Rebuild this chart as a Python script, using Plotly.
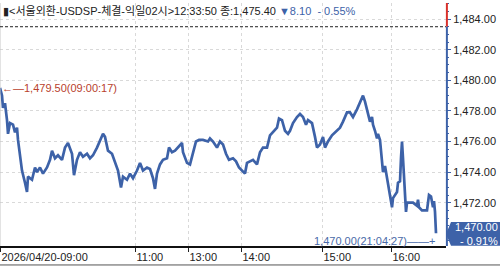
import plotly.graph_objects as go

# ---- data ----
seq = [0, 2, 3, 5, 7, 8, 10, 13, 15, 17, 18, 20, 22, 25, 27, 28, 32, 35, 37, 40,
       43, 47, 50, 52, 55, 58, 62, 65, 68, 72, 74, 77, 80, 83, 87, 90, 93, 97, 100, 103,
       105, 108, 112, 115, 118, 121, 123, 127, 130, 133, 137, 140, 143, 147, 150, 153, 155, 157, 160, 163,
       167, 169, 172, 175, 178, 182, 183, 187, 190, 193, 196, 199, 203, 208, 210, 213, 217, 220, 223, 226,
       229, 233, 236, 239, 243, 245, 247, 250, 253, 257, 260, 263, 267, 270, 273, 277, 279, 282, 285, 288,
       290, 293, 297, 300, 303, 306, 308, 312, 315, 317, 320, 323, 325, 328, 332, 337, 340, 343, 347, 350,
       353, 357, 360, 363, 365, 368, 370, 372, 373, 375, 377, 378, 380, 382, 383, 385, 388, 390, 392, 393,
       395, 397, 398, 400, 401, 402, 403, 404, 405, 406, 407, 413, 417, 418, 419, 422, 427, 429, 431, 433,
       434, 435, 436]
price = [1479.5, 1479.0, 1478.2, 1478.5, 1477.4, 1476.5, 1477.2, 1477.1, 1476.6, 1476.9, 1476.1, 1475.0, 1474.1, 1473.3, 1472.7, 1473.7, 1473.5, 1474.3, 1474.0, 1474.3,
         1473.9, 1474.3, 1474.8, 1475.4, 1474.9, 1475.1, 1474.8, 1475.6, 1475.9, 1475.2, 1473.8, 1474.8, 1475.3, 1475.0, 1475.2, 1474.9, 1475.1, 1475.6, 1476.1, 1476.5,
         1476.3, 1475.4, 1475.2, 1474.6, 1474.1, 1473.0, 1473.7, 1473.5, 1473.9, 1473.6, 1474.1, 1474.6, 1474.1, 1474.3, 1474.2, 1473.6, 1472.9, 1473.9, 1474.5, 1474.8,
         1474.9, 1475.6, 1475.3, 1475.4, 1475.6, 1475.9, 1475.3, 1474.6, 1474.5, 1475.3, 1476.0, 1476.1, 1476.1, 1476.0, 1476.2, 1476.0, 1475.6, 1476.0, 1475.8, 1475.2,
         1474.8, 1474.9, 1474.7, 1474.3, 1474.0, 1473.9, 1474.6, 1474.7, 1474.8, 1474.5, 1475.3, 1475.6, 1475.6, 1476.4, 1476.6, 1476.9, 1477.5, 1477.4, 1476.7, 1476.5,
         1476.7, 1477.2, 1477.6, 1477.8, 1477.6, 1477.1, 1477.4, 1477.2, 1476.3, 1475.6, 1475.8, 1476.3, 1475.6, 1476.0, 1476.4, 1476.7, 1476.9, 1477.3, 1477.9, 1477.9,
         1477.6, 1478.1, 1478.5, 1479.0, 1478.6, 1477.7, 1477.3, 1477.6, 1477.1, 1476.7, 1476.2, 1476.5, 1476.1, 1474.7, 1474.0, 1474.4, 1473.2, 1472.3, 1471.7, 1472.3,
         1472.5, 1472.7, 1473.3, 1473.4, 1474.9, 1476.0, 1474.9, 1473.6, 1472.7, 1471.4, 1472.0, 1472.0, 1471.8, 1472.2, 1471.7, 1471.5, 1471.5, 1472.5, 1472.4, 1471.7,
         1472.1, 1471.4, 1470.0]

tick_seq = [0, 135, 188, 241, 322, 391]
tick_labels = ["2026/04/20-09:00", "11:00", "13:00", "14:00", "15:00", "16:00"]
y_ticks = [1472, 1474, 1476, 1478, 1480, 1482, 1484]

prev_close = 1483.50
open_price = 1479.50
open_time = "09:00:17"
low_price = 1470.00
low_time = "21:04:27"
last_price = 1470.00
last_change_pct = -0.91
title_time = "12:33:50"
title_close = 1475.40
title_change = 8.10
title_change_pct = -0.55

FONT = "Liberation Sans, Arial, Noto Sans CJK KR, sans-serif"
BLUE = "#3d62a8"

y_lo, y_hi = 1469.17, 1485.05

fig = go.Figure()
fig.add_trace(go.Scatter(x=seq, y=price, mode="lines",
                         line=dict(color=BLUE, width=2.7), hoverinfo="skip",
                         showlegend=False))

fig.update_layout(
    width=500, height=266,
    margin=dict(l=0, r=54, t=3, b=20),
    paper_bgcolor="white", plot_bgcolor="white",
    font=dict(family=FONT, size=11, color="#222"),
    xaxis=dict(range=[0, 446], tickmode="array", tickvals=tick_seq, ticktext=tick_labels,
               ticklabelposition="outside right", ticks="outside", ticklen=4,
               tickcolor="#222", showgrid=True, gridcolor="#d9d9d9", griddash="3px,3px",
               gridwidth=1, showline=True, linecolor="#111", linewidth=2,
               zeroline=False, tickfont=dict(size=11, color="#222")),
    yaxis=dict(range=[y_lo, y_hi], side="right", tickmode="array", tickvals=y_ticks,
               ticktext=[f"{v:,.2f}" for v in y_ticks], ticks="outside", ticklen=4,
               tickcolor="#3d62a8", showgrid=True, gridcolor="#d9d9d9", griddash="3px,3px",
               zeroline=False, showline=False, tickfont=dict(size=11, color="#222"),
               minor=dict(tickmode="linear", tick0=1470, dtick=0.5, ticks="outside",
                          ticklen=2, tickcolor="#3d62a8", showgrid=False)),
)

shapes = []
# left border
shapes.append(dict(type="line", xref="paper", yref="paper", x0=0, x1=0, y0=0, y1=1,
                   line=dict(color="#c8c8c8", width=1)))
# previous close dashed line
shapes.append(dict(type="line", xref="paper", yref="y", x0=0, x1=1, y0=prev_close, y1=prev_close,
                   line=dict(color="#222", width=1, dash="3px,2px")))
# right axis: red above previous close, blue below
shapes.append(dict(type="line", xref="paper", yref="y", x0=1.002, x1=1.002, y0=prev_close, y1=y_hi,
                   line=dict(color="#d9312b", width=2)))
shapes.append(dict(type="line", xref="paper", yref="y", x0=1.002, x1=1.002, y0=y_lo, y1=prev_close,
                   line=dict(color=BLUE, width=2)))
# last price pointer box
bx0, bxp, bx1 = 1.0, 1.0112, 1.125
half = 0.78
yc = last_price - 0.04
shapes.append(dict(type="path", xref="paper", yref="y",
                   path=f"M {bx0},{yc} L {bxp},{yc+half} L {bx1},{yc+half} L {bx1},{yc-half} L {bxp},{yc-half} Z",
                   fillcolor=BLUE, line=dict(width=0), layer="above"))
# bottom border of the image
shapes.append(dict(type="line", xref="paper", yref="paper", x0=0, x1=1.125, y0=-0.078, y1=-0.078,
                   line=dict(color="#555", width=1)))
fig.update_layout(shapes=shapes)

annotations = []
annotations.append(dict(
    xref="paper", yref="paper", x=0, y=1, xanchor="left", yanchor="top", xshift=1, yshift=1,
    showarrow=False, align="left",
    text=(f"▮&lt;서울외환-USDSP-체결-익일02시&gt;{title_time} 종:{title_close:,.2f} "
          f"<span style='color:{BLUE}'>▼{title_change:.2f}  - {abs(title_change_pct):.2f}%</span>"),
    font=dict(size=11, color="#222", family=FONT)))
annotations.append(dict(
    x=0, y=open_price, xref="x", yref="y", xanchor="left", yanchor="middle", showarrow=False,
    text=f"←—{open_price:,.2f}({open_time})", font=dict(size=11, color="#b8412c", family=FONT)))
annotations.append(dict(
    x=seq[-1] + 1, y=low_price, xref="x", yref="y", xanchor="right", yanchor="middle",
    yshift=-8, showarrow=False,
    text=f"{low_price:,.2f}({low_time})——+", font=dict(size=11, color="#4a6aa8", family=FONT)))
annotations.append(dict(
    x=1.12, y=last_price - 0.04, xref="paper", yref="y", xanchor="right", yanchor="middle",
    showarrow=False, align="right",
    text=f"{last_price:,.2f}<br>- {abs(last_change_pct):.2f}%",
    font=dict(size=11, color="white", family=FONT)))
fig.update_layout(annotations=annotations)

fig.write_html("out.html")
